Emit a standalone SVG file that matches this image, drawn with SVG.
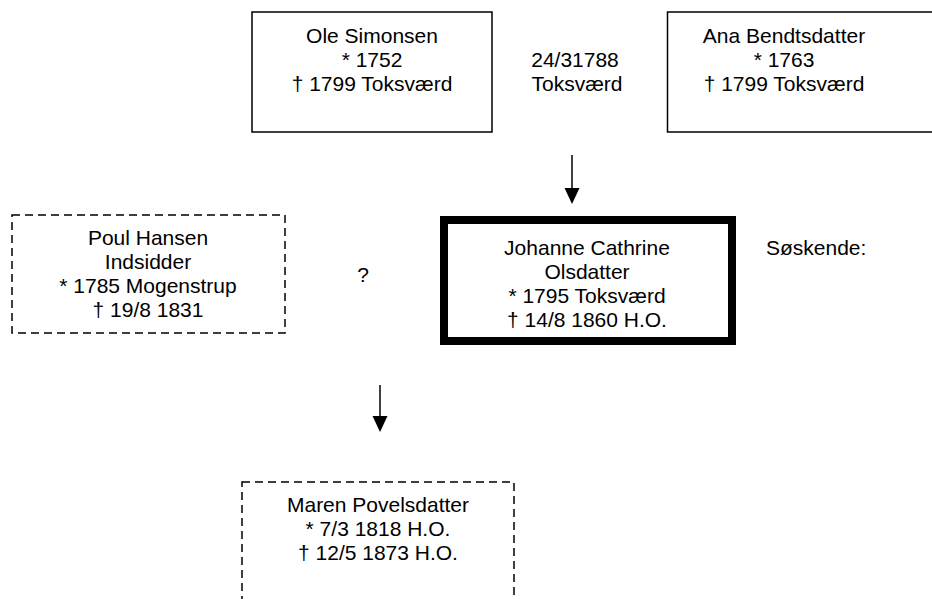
<svg xmlns="http://www.w3.org/2000/svg" width="932" height="599" viewBox="0 0 932 599">
<defs>
<style>
text{font-family:"Liberation Sans",Arial,sans-serif;font-size:21px;fill:#000;text-anchor:middle}
.box{fill:#fff;stroke:#000;stroke-width:1.5}
.dash{fill:#fff;stroke:#000;stroke-width:1.5;stroke-dasharray:8 5}
.main{fill:#fff;stroke:#000;stroke-width:8}
.conn{stroke:#000;stroke-width:1.5;fill:none}
</style>
<marker id="ah" markerWidth="15" markerHeight="16" refX="7.5" refY="16" orient="auto-start-reverse" markerUnits="userSpaceOnUse" viewBox="0 0 15 16">
<path d="M0,0 L15,0 L7.5,16 Z" fill="#000" transform="rotate(0)"/>
</marker>
</defs>
<rect width="932" height="599" fill="#fff"/>
<g id="connectors">
<line class="conn" x1="572" y1="155" x2="572" y2="190"/>
<path d="M564.5,188 L579.5,188 L572,204 Z" fill="#000"/>
<line class="conn" x1="380" y1="385" x2="380" y2="418"/>
<path d="M372.5,416 L387.5,416 L380,432 Z" fill="#000"/>
</g>
<g id="ole">
<rect class="box" x="252" y="12" width="240" height="120"/>
<text x="372" y="43">Ole Simonsen</text>
<text x="372" y="67">* 1752</text>
<text x="372" y="91">† 1799 Toksværd</text>
</g>
<g id="marriage">
<text x="575" y="67">24/31788</text>
<text x="577" y="91">Toksværd</text>
</g>
<g id="ana">
<rect class="box" x="667.5" y="12" width="300" height="120"/>
<text x="784" y="43">Ana Bendtsdatter</text>
<text x="784" y="67">* 1763</text>
<text x="784" y="91">† 1799 Toksværd</text>
</g>
<g id="poul">
<rect class="dash" x="12" y="215" width="273" height="118"/>
<text x="148" y="245">Poul Hansen</text>
<text x="148" y="269">Indsidder</text>
<text x="148" y="293">* 1785 Mogenstrup</text>
<text x="148" y="317">† 19/8 1831</text>
</g>
<g id="question">
<text x="363" y="282">?</text>
</g>
<g id="johanne">
<rect class="main" x="444" y="220" width="288" height="121"/>
<text x="587" y="255">Johanne Cathrine</text>
<text x="587" y="279">Olsdatter</text>
<text x="587" y="303">* 1795 Toksværd</text>
<text x="587" y="327">† 14/8 1860 H.O.</text>
</g>
<g id="soskende">
<text x="766" y="255" style="text-anchor:start">Søskende:</text>
</g>
<g id="maren">
<rect class="dash" x="242" y="482" width="272" height="140"/>
<text x="378" y="512">Maren Povelsdatter</text>
<text x="378" y="536">* 7/3 1818 H.O.</text>
<text x="378" y="560">† 12/5 1873 H.O.</text>
</g>
</svg>
